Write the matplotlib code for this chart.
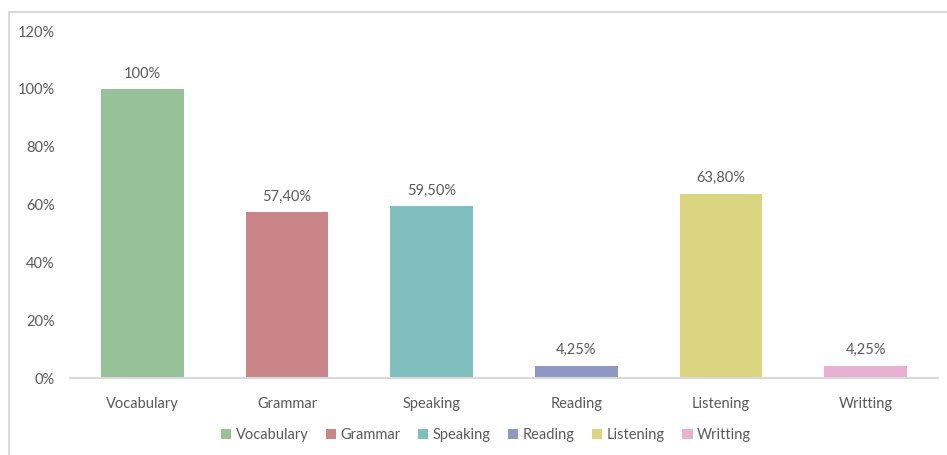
import matplotlib
matplotlib.use("Agg")
import matplotlib.pyplot as plt
from matplotlib.lines import Line2D
from matplotlib.patches import Patch

categories = ["Vocabulary", "Grammar", "Speaking", "Reading", "Listening", "Writting"]
values = [100.0, 57.40, 59.50, 4.25, 63.80, 4.25]
value_labels = ["100%", "57,40%", "59,50%", "4,25%", "63,80%", "4,25%"]
colors = ["#97C298", "#C98588", "#7FC0BF", "#8F97C4", "#DCD580", "#E9B0CF"]
yticks = [0, 20, 40, 60, 80, 100, 120]
ytick_labels = ["0%", "20%", "40%", "60%", "80%", "100%", "120%"]

plt.rcParams["font.family"] = ["Lato", "DejaVu Sans"]
text_color = "#595959"

W, H = 947, 455
fig = plt.figure(figsize=(W / 100, H / 100), dpi=100)
ax = fig.add_axes([70 / W, 1 - 378 / H, 868 / W, 347 / H])

x = list(range(len(categories)))
bars = ax.bar(x, values, width=0.57, color=colors, zorder=2)

for xi, v, lab in zip(x, values, value_labels):
    ax.annotate(lab, (xi, v), xytext=(0, 6), textcoords="offset points",
                ha="center", va="bottom", fontsize=10.5, color=text_color)

ax.set_xlim(-0.5, 5.5)
ax.set_ylim(0, 120)
ax.set_yticks(yticks)
ax.set_yticklabels(ytick_labels)
ax.set_xticks(x)
ax.set_xticklabels(categories)
ax.tick_params(axis="both", length=0, labelsize=10.5, labelcolor=text_color)
ax.tick_params(axis="x", pad=14)
ax.tick_params(axis="y", pad=11)
for s in ["top", "right", "left"]:
    ax.spines[s].set_visible(False)
ax.spines["bottom"].set_color("#D9D9D9")
ax.spines["bottom"].set_linewidth(1.5)

# chart frame (top and left edges)
fx = 9 / W
fy = 1 - 12 / H
fig.add_artist(Line2D([fx, 1], [fy, fy], transform=fig.transFigure,
                      color="#D9D9D9", lw=1.5))
fig.add_artist(Line2D([fx, fx], [0, fy], transform=fig.transFigure,
                      color="#D9D9D9", lw=1.5))

handles = [Patch(facecolor=c, edgecolor="none") for c in colors]
fig.legend(handles, categories, loc="center", ncol=6,
           bbox_to_anchor=(486 / W, 1 - 435 / H), frameon=False,
           fontsize=10.5, labelcolor=text_color, handlelength=0.7,
           handleheight=0.7, handletextpad=0.3, columnspacing=1.2)

fig.savefig("out.png", dpi=100, facecolor="white")
